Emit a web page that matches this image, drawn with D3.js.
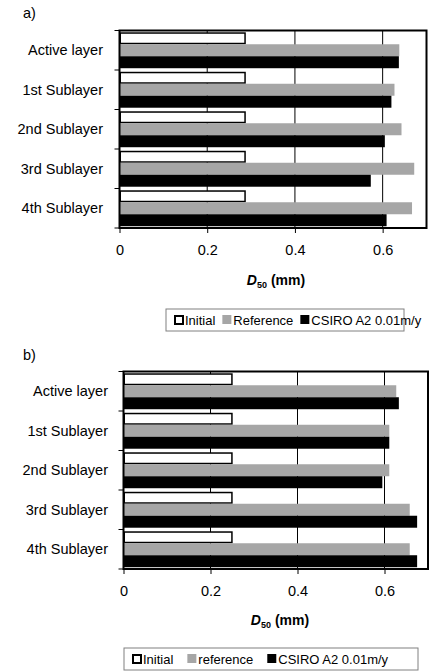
<!DOCTYPE html>
<html>
<head>
<meta charset="utf-8">
<script src="https://cdn.jsdelivr.net/npm/d3@7"></script>
<style>
  html, body { margin: 0; padding: 0; background: #fff; }
  svg { display: block; font-family: "Liberation Sans", Arial, sans-serif; }
</style>
</head>
<body>
<svg id="chart" width="429" height="671"></svg>
<script>
// ---- data ----
const categories = ["Active layer", "1st Sublayer", "2nd Sublayer", "3rd Sublayer", "4th Sublayer"];
const seriesA = ["Initial", "Reference", "CSIRO A2 0.01m/y"];
const seriesB = ["Initial", "reference", "CSIRO A2 0.01m/y"];
const initialA   = [0.288, 0.288, 0.288, 0.288, 0.288];
const referenceA = [0.638, 0.627, 0.643, 0.672, 0.667];
const csiroA     = [0.637, 0.620, 0.605, 0.573, 0.609];
const initialB   = [0.251, 0.251, 0.251, 0.251, 0.251];
const referenceB = [0.627, 0.611, 0.611, 0.658, 0.658];
const csiroB     = [0.633, 0.611, 0.595, 0.675, 0.675];
const xTicks = [0, 0.2, 0.4, 0.6];
const xDomain = [0, 0.7];

const svg = d3.select("#chart");
const GRAY = "#a6a6a6";

function panel(cfg) {
  const g = svg.append("g");
  const x = d3.scaleLinear().domain(xDomain).range([cfg.left, cfg.right]);
  const y = d3.scaleBand().domain(categories).range([cfg.top, cfg.bottom]).paddingInner(0.09).paddingOuter(0.045);
  const ys = d3.scaleBand().domain(cfg.series).range([0, y.bandwidth()]).padding(0);

  g.append("text").attr("x", 23).attr("y", cfg.letterY).attr("font-size", 14.5).text(cfg.letter);

  g.append("g").selectAll("line").data(xTicks.filter(d => d > 0)).join("line")
    .attr("x1", d => x(d)).attr("x2", d => x(d))
    .attr("y1", cfg.top).attr("y2", cfg.bottom)
    .attr("stroke", "#000").attr("stroke-width", 1);

  const rows = categories.map((c, i) => ({c, vals: [cfg.initial[i], cfg.reference[i], cfg.csiro[i]]}));
  const fills = ["#fff", GRAY, "#000"];
  rows.forEach(r => {
    r.vals.forEach((v, j) => {
      const s = cfg.series[j];
      const rect = g.append("rect")
        .attr("x", x(0)).attr("y", y(r.c) + ys(s))
        .attr("width", x(v) - x(0)).attr("height", ys.bandwidth())
        .attr("fill", fills[j]);
      if (j === 0) {
        rect.attr("x", x(0) + 0.75).attr("y", y(r.c) + ys(s) + 0.75)
          .attr("width", x(v) - x(0) - 1.5).attr("height", ys.bandwidth() - 1.5)
          .attr("stroke", "#000").attr("stroke-width", 1.5);
      }
    });
  });

  g.append("rect").attr("x", cfg.left).attr("y", cfg.top)
    .attr("width", cfg.right - cfg.left).attr("height", cfg.bottom - cfg.top)
    .attr("fill", "none").attr("stroke", "#000").attr("stroke-width", 2);

  const bounds = d3.range(categories.length + 1).map(i => cfg.top + i * y.step());
  g.append("g").selectAll("line").data(bounds).join("line")
    .attr("x1", cfg.left - 5).attr("x2", cfg.left)
    .attr("y1", d => d).attr("y2", d => d)
    .attr("stroke", "#000").attr("stroke-width", 1);

  g.append("g").selectAll("text").data(categories).join("text")
    .attr("x", cfg.labelX).attr("y", d => y(d) + y.bandwidth() / 2)
    .attr("text-anchor", "end").attr("dominant-baseline", "central")
    .attr("font-size", 14.5).attr("fill", "#000").text(d => d);

  const xAxis = d3.axisBottom(x).tickValues(xTicks).tickFormat(d => d === 0 ? "0" : d3.format(".1f")(d))
    .tickSize(5).tickPadding(12);
  const ax = g.append("g").attr("transform", `translate(0,${cfg.bottom})`).call(xAxis);
  ax.select(".domain").remove();
  ax.selectAll(".tick line").attr("stroke", "#000");
  ax.selectAll(".tick text").attr("font-size", 14.5).attr("fill", "#000")
    .attr("font-family", "Liberation Sans, Arial, sans-serif");

  const t = g.append("text").attr("x", cfg.titleX).attr("y", cfg.titleY)
    .attr("text-anchor", "middle").attr("font-size", 14).attr("font-weight", "bold");
  t.append("tspan").attr("font-style", "italic").text("D");
  t.append("tspan").attr("font-size", 9).attr("dy", 3).text("50");
  t.append("tspan").attr("dy", -3).text(" (mm)");

  const lg = g.append("g");
  lg.append("rect").attr("x", cfg.legX).attr("y", cfg.legY).attr("width", cfg.legW).attr("height", cfg.legH)
    .attr("fill", "#fff").attr("stroke", "#808080").attr("stroke-width", 1);
  const cy = cfg.legY + cfg.legH / 2;
  let cx = cfg.legX + cfg.legPad;
  cfg.series.forEach((s, j) => {
    if (j === 0) {
      lg.append("rect").attr("x", cx + 1).attr("y", cy - 4).attr("width", 8).attr("height", 8)
        .attr("fill", "#fff").attr("stroke", "#000").attr("stroke-width", 2);
    } else {
      lg.append("rect").attr("x", cx).attr("y", cy - 5).attr("width", 9).attr("height", 9)
        .attr("fill", fills[j]);
    }
    const tx = lg.append("text").attr("x", cx + 11).attr("y", cy)
      .attr("dominant-baseline", "central").attr("font-size", 13).text(s);
    const w = tx.node().getComputedTextLength();
    cx += 11 + w + cfg.legGap;
  });
}

panel({
  letter: "a)", letterY: 18,
  left: 119.5, right: 426.5, top: 30.5, bottom: 228,
  series: seriesA, initial: initialA, reference: referenceA, csiro: csiroA,
  labelX: 103, titleX: 276, titleY: 285,
  legX: 166, legY: 309, legW: 238, legH: 22, legPad: 8, legGap: 7
});

panel({
  letter: "b)", letterY: 360,
  left: 123.5, right: 428, top: 371.5, bottom: 569,
  series: seriesB, initial: initialB, reference: referenceB, csiro: csiroB,
  labelX: 108, titleX: 280, titleY: 625,
  legX: 124, legY: 648, legW: 294, legH: 22, legPad: 8, legGap: 14
});
</script>
</body>
</html>
